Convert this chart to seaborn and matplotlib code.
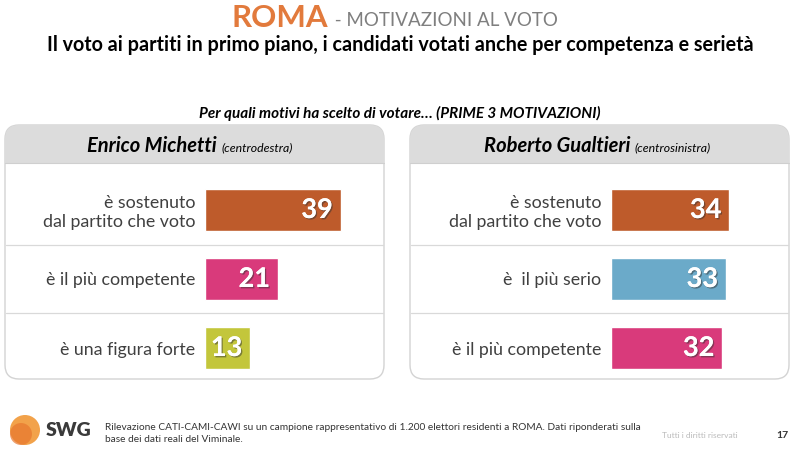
import numpy as np
import matplotlib
matplotlib.use("Agg")
import matplotlib.pyplot as plt
import matplotlib.patheffects as pe
from matplotlib.patches import FancyBboxPatch, Rectangle, Circle, Arc
import seaborn as sns

sns.set_theme(style="white")
plt.rcParams['font.family'] = ['Lato', 'DejaVu Sans']

# --- data ---
michetti_labels = ["è sostenuto\ndal partito che voto", "è il più competente", "è una figura forte"]
michetti_values = [39, 21, 13]
michetti_colors = ["#BE5B2B", "#D93A7B", "#C3C63B"]

gualtieri_labels = ["è sostenuto\ndal partito che voto", "è  il più serio", "è il più competente"]
gualtieri_values = [34, 33, 32]
gualtieri_colors = ["#BE5B2B", "#6BAAC9", "#D93A7B"]

W, H = 800, 449
PX_PER_UNIT = 3.48

fig = plt.figure(figsize=(8, 4.49), dpi=100)
fig.patch.set_facecolor("white")

# background axes in pixel coordinates
bg = fig.add_axes([0, 0, 1, 1])
bg.set_xlim(0, W)
bg.set_ylim(H, 0)
bg.axis("off")


def fig_rect(x0, y0, x1, y1):
    return [x0 / W, 1 - y1 / H, (x1 - x0) / W, (y1 - y0) / H]


# titles
bg.text(328, 18, "ROMA", ha="right", va="center", fontsize=22.5, fontweight="bold", color="#E27A3C")
bg.text(330, 21, " - MOTIVAZIONI AL VOTO", ha="left", va="center", fontsize=13.5, color="#7F7F7F")
bg.text(400, 45, "Il voto ai partiti in primo piano, i candidati votati anche per competenza e serietà",
        ha="center", va="center", fontsize=14.2, fontweight="bold", color="black")
bg.text(400, 113, "Per quali motivi ha scelto di votare… (PRIME 3 MOTIVAZIONI)",
        ha="center", va="center", fontsize=11, fontweight="bold", style="italic", color="black")


def draw_panel(x0, x1, name, party, name_right):
    y0, y1 = 125, 379
    panel = FancyBboxPatch((x0, y0), x1 - x0, y1 - y0, boxstyle="round,pad=0,rounding_size=14",
                           facecolor="white", edgecolor="#D3D3D3", lw=1.0, zorder=1)
    bg.add_patch(panel)
    header = Rectangle((x0, y0), x1 - x0, 38, facecolor="#DCDCDC", edgecolor="none", zorder=2)
    header.set_clip_path(panel)
    bg.add_patch(header)
    bg.plot([x0, x1], [163, 163], color="#CFCFCF", lw=0.8, zorder=3)
    bg.text(name_right, 146, name, ha="right", va="center", fontsize=14.5, fontweight="bold",
            style="italic", color="black", zorder=4)
    bg.text(name_right + 4, 147.5, party, ha="left", va="center", fontsize=8.8,
            style="italic", color="black", zorder=4)
    for ys in (245, 313):
        bg.plot([x0 + 1, x1 - 1], [ys, ys], color="#D9D9D9", lw=0.9, zorder=3)


draw_panel(5, 384, "Enrico Michetti", "(centrodestra)", 217)
draw_panel(410, 789, "Roberto Gualtieri", "(centrosinistra)", 630)


def draw_bars(bar_x0, labels, values, colors):
    ax = fig.add_axes(fig_rect(bar_x0, 175.5, bar_x0 + 170, 382.5))
    ax.patch.set_alpha(0)
    sns.barplot(x=values, y=labels, hue=labels, palette=colors, legend=False,
                width=0.61, saturation=1, ax=ax)
    ax.set_xlim(0, 170 / PX_PER_UNIT)
    ax.set_ylim(2.5, -0.5)
    ax.set_xticks([])
    ax.set_xlabel("")
    ax.set_ylabel("")
    for s in ax.spines.values():
        s.set_visible(False)
    ax.tick_params(axis="y", length=0, pad=7, labelsize=12.8, labelcolor="#404040")
    for i, v in enumerate(values):
        ax.text(v - 2.3, i, str(v), ha="right", va="center", color="white", fontsize=19.5,
                fontweight="bold",
                path_effects=[pe.withSimplePatchShadow(offset=(1, -1), shadow_rgbFace="#333333", alpha=0.5),
                              pe.Normal()])
    return ax


draw_bars(205, michetti_labels, michetti_values, michetti_colors)
draw_bars(611, gualtieri_labels, gualtieri_values, gualtieri_colors)

# footer logo
bg.add_patch(Circle((25, 430), 15, facecolor="#F2A24A", edgecolor="none", zorder=2))
bg.add_patch(Circle((21, 434), 11, facecolor="#E8772E", edgecolor="none", zorder=2, alpha=0.7))
for r in (20, 26, 32):
    bg.add_patch(Arc((8, 450), r, r * 0.9, theta1=10, theta2=80, color="white", lw=1.2, zorder=3))
bg.text(46, 431, "SWG", ha="left", va="center", fontsize=14, fontweight="heavy", color="#3A3A3A")

bg.text(105, 428, "Rilevazione CATI-CAMI-CAWI su un campione rappresentativo di 1.200 elettori residenti a ROMA. "
        "Dati riponderati sulla", ha="left", va="center", fontsize=7.3, color="#333333")
bg.text(105, 440, "base dei dati reali del Viminale.", ha="left", va="center", fontsize=7.3, color="#333333")
bg.text(662, 436, "Tutti i diritti riservati", ha="left", va="center", fontsize=6.0, color="#BBBBBB")
bg.text(776, 436, "17", ha="left", va="center", fontsize=7.5, fontweight="bold", color="#333333")

fig.savefig("out.png", dpi=100)
